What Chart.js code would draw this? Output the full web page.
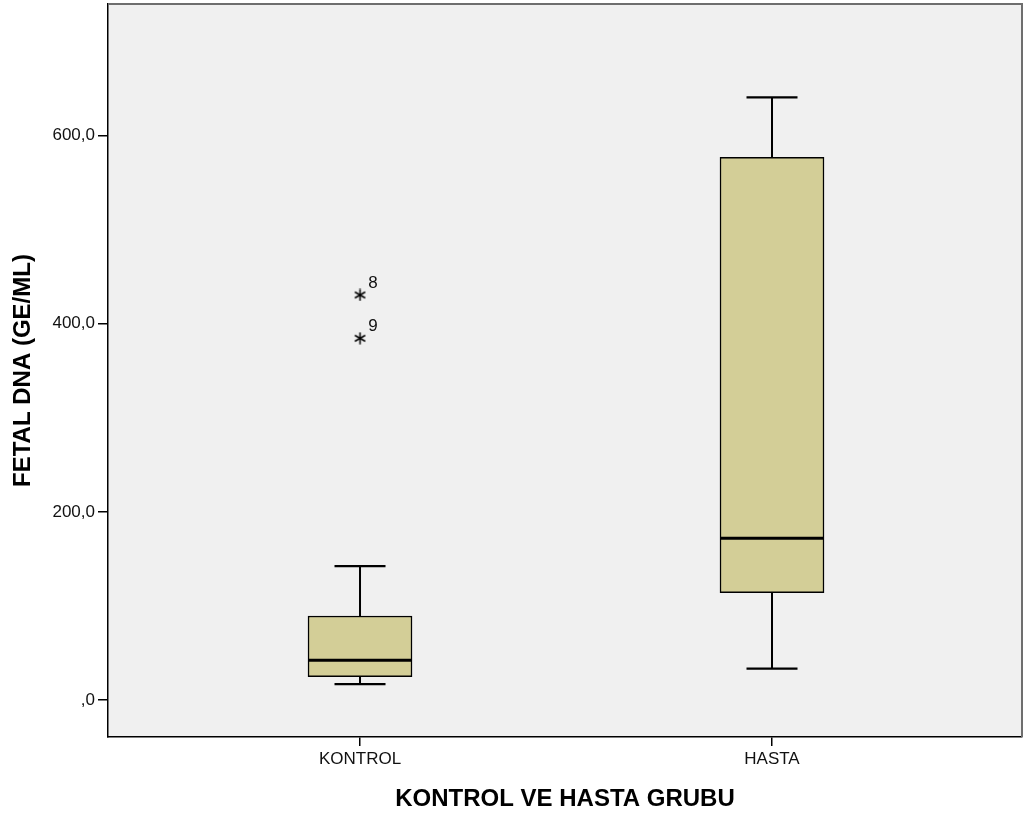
<!DOCTYPE html>
<html>
<head>
<meta charset="utf-8">
<script src="https://cdn.jsdelivr.net/npm/chart.js@4.4.1/dist/chart.umd.min.js"></script>
<style>
  html, body { margin: 0; padding: 0; background: #ffffff; }
  #wrap { width: 1025px; height: 821px; }
</style>
</head>
<body>
<div id="wrap"><canvas id="chart" width="1025" height="821"></canvas></div>
<script>
// Group names on the x axis
const categories = ['KONTROL', 'HASTA'];

// Five-number summaries per group (GE/ML)
const whiskerLow  = [17.0, 33.3];
const q1          = [24.8, 114.1];
const median      = [42.2, 171.9];
const q3          = [89.3, 576.8];
const whiskerHigh = [142.4, 640.6];

// Extreme values (case numbers shown beside them)
const outlierGroup  = [0, 0];
const outlierValues = [430.5, 384.5];
const outlierCases  = ['8', '9'];

// Y axis ticks and their labels
const yTickValues = [0, 200, 400, 600];
const yTickLabels = [',0', '200,0', '400,0', '600,0'];

const FONT = '"Liberation Sans", Arial, Helvetica, sans-serif';
const BOX_FILL = '#d3ce97';

// Six-armed asterisk used for the extreme values
function makeAsterisk(size) {
  const c = document.createElement('canvas');
  c.width = size; c.height = size;
  const g = c.getContext('2d');
  g.strokeStyle = '#000';
  g.lineWidth = 1.5;
  const r = size / 2 - 0.5;
  g.translate(size / 2, size / 2);
  for (let i = 0; i < 3; i++) {
    const a = Math.PI / 2 + i * Math.PI / 3;
    g.beginPath();
    g.moveTo(Math.cos(a) * r, Math.sin(a) * r);
    g.lineTo(-Math.cos(a) * r, -Math.sin(a) * r);
    g.stroke();
  }
  return c;
}

const boxData = categories.map((_, i) => ({ x: i, y: [q1[i], q3[i]] }));
const outlierData = outlierValues.map((v, i) => ({ x: outlierGroup[i], y: v }));

// Plot background and the gray top/right frame
const framePlugin = {
  id: 'frame',
  beforeDraw(chart) {
    const { ctx, chartArea: a } = chart;
    ctx.save();
    ctx.fillStyle = '#f0f0f0';
    ctx.fillRect(a.left, a.top, a.right - a.left, a.bottom - a.top);
    ctx.restore();
  },
  afterDraw(chart) {
    const { ctx, chartArea: a } = chart;
    ctx.save();
    ctx.strokeStyle = '#6e6e6e';
    ctx.lineWidth = 2;
    ctx.beginPath();
    ctx.moveTo(a.left, a.top);
    ctx.lineTo(a.right, a.top);
    ctx.lineTo(a.right, a.bottom);
    ctx.stroke();
    ctx.restore();
  }
};

// Whiskers, caps, medians and case labels, placed through the chart scales
const boxPlotPlugin = {
  id: 'boxParts',
  afterDatasetsDraw(chart) {
    const { ctx, scales: { x, y } } = chart;
    ctx.save();
    ctx.strokeStyle = '#000';
    const boxHalf = 52, capHalf = 25.5;
    categories.forEach((_, i) => {
      const cx = x.getPixelForValue(i);
      // whiskers
      ctx.lineWidth = 2;
      ctx.beginPath();
      ctx.moveTo(cx, y.getPixelForValue(q3[i]));
      ctx.lineTo(cx, y.getPixelForValue(whiskerHigh[i]));
      ctx.moveTo(cx, y.getPixelForValue(q1[i]));
      ctx.lineTo(cx, y.getPixelForValue(whiskerLow[i]));
      ctx.stroke();
      // caps
      ctx.lineWidth = 2.2;
      ctx.beginPath();
      const yh = y.getPixelForValue(whiskerHigh[i]);
      const yl = y.getPixelForValue(whiskerLow[i]);
      ctx.moveTo(cx - capHalf, yh); ctx.lineTo(cx + capHalf, yh);
      ctx.moveTo(cx - capHalf, yl); ctx.lineTo(cx + capHalf, yl);
      ctx.stroke();
      // median
      ctx.lineWidth = 3;
      ctx.beginPath();
      const ym = y.getPixelForValue(median[i]);
      ctx.moveTo(cx - boxHalf, ym); ctx.lineTo(cx + boxHalf, ym);
      ctx.stroke();
    });
    // case numbers beside the extreme values
    ctx.fillStyle = '#111';
    ctx.font = '17px ' + FONT;
    ctx.textAlign = 'center';
    ctx.textBaseline = 'middle';
    outlierValues.forEach((v, i) => {
      const px = x.getPixelForValue(outlierGroup[i]);
      const py = y.getPixelForValue(v);
      ctx.fillText(outlierCases[i], px + 13, py - 12);
    });
    ctx.restore();
  }
};

new Chart(document.getElementById('chart'), {
  type: 'bar',
  data: {
    datasets: [
      {
        type: 'bar',
        data: boxData,
        backgroundColor: BOX_FILL,
        borderColor: '#000',
        borderWidth: 1.5,
        borderSkipped: false,
        barThickness: 104,
        order: 2
      },
      {
        type: 'scatter',
        data: outlierData,
        pointStyle: makeAsterisk(13),
        pointRadius: 6.5,
        order: 1
      }
    ]
  },
  options: {
    responsive: false,
    animation: false,
    layout: { autoPadding: false, padding: { top: 4, right: 3, left: 0, bottom: 0 } },
    plugins: {
      legend: { display: false },
      tooltip: { enabled: false }
    },
    scales: {
      x: {
        type: 'linear',
        min: -0.6117,
        max: 1.6068,
        offset: false,
        afterFit(scale) {
          scale.height = 84;
          scale.paddingLeft = 0; scale.paddingRight = 0;
        },
        afterBuildTicks(scale) { scale.ticks = categories.map((_, i) => ({ value: i })); },
        ticks: {
          color: '#111',
          font: { family: FONT, size: 17 },
          padding: 3,
          maxRotation: 0,
          autoSkip: false,
          callback: (v) => categories[v]
        },
        grid: { offset: false, drawOnChartArea: false, color: '#000', lineWidth: 1.5, tickLength: 9 },
        border: { display: true, color: '#000', width: 1.5 },
        title: {
          display: true,
          text: 'KONTROL VE HASTA GRUBU',
          color: '#000',
          font: { family: FONT, size: 24, weight: 'bold' },
          padding: { top: 0, bottom: 7 }
        }
      },
      y: {
        min: -39.3,
        max: 739.8,
        afterFit(scale) {
          scale.width = 108;
          scale.paddingTop = 0; scale.paddingBottom = 0;
        },
        afterBuildTicks(scale) { scale.ticks = yTickValues.map(v => ({ value: v })); },
        ticks: {
          color: '#111',
          font: { family: FONT, size: 17 },
          padding: 3,
          autoSkip: false,
          callback: (v) => yTickLabels[yTickValues.indexOf(v)]
        },
        grid: { drawOnChartArea: false, color: '#000', lineWidth: 1.5, tickLength: 10 },
        border: { display: true, color: '#000', width: 1.5 },
        title: {
          display: true,
          text: 'FETAL DNA (GE/ML)',
          color: '#000',
          font: { family: FONT, size: 24, weight: 'bold' },
          padding: { top: 9, bottom: 0 }
        }
      }
    }
  },
  plugins: [framePlugin, boxPlotPlugin]
});
</script>
</body>
</html>
